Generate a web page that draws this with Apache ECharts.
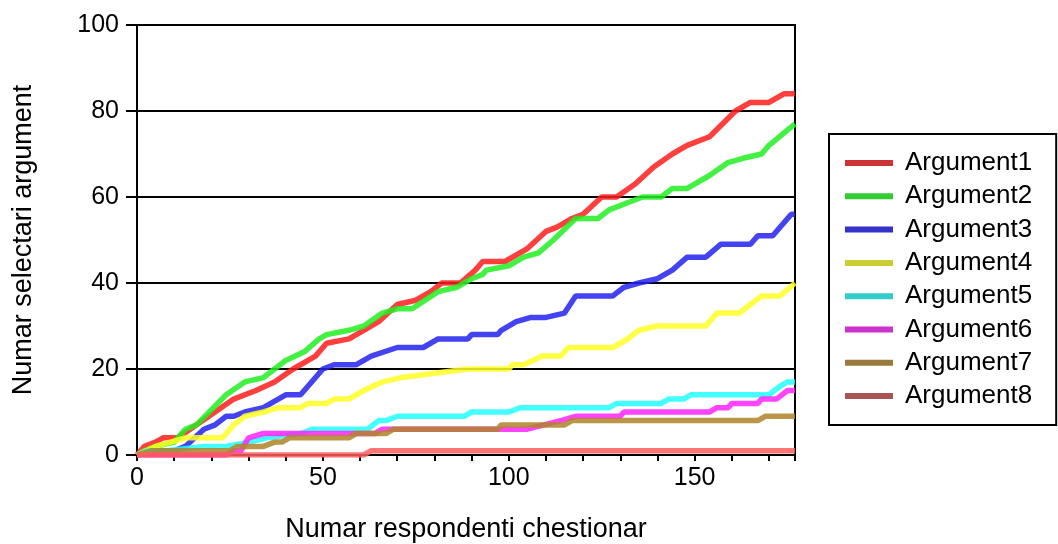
<!DOCTYPE html>
<html>
<head>
<meta charset="utf-8">
<script src="https://cdn.jsdelivr.net/npm/echarts@6/dist/echarts.min.js"></script>
<style>
html,body{margin:0;padding:0;background:#fff;}
#c{width:1058px;height:544px;}
</style>
</head>
<body>
<div id="c"></div>
<script>
const seriesNames = ['Argument1','Argument2','Argument3','Argument4','Argument5','Argument6','Argument7','Argument8'];
const xTickLabels = [0, 50, 100, 150];
const yTickLabels = [0, 20, 40, 60, 80, 100];

// [respondent index, cumulative count] vertices
const arg1 = [[0,0],[2,2],[5,3],[7,4],[11,4],[21,10],[26,13],[32,15],[37,17],[42,20],[48,23],[51,26],[57,27],[61,29],[65,31],[70,35],[75,36],[79,38],[82,40],[87,40],[91,43],[93,45],[99,45],[105,48],[110,52],[113,53],[117,55],[120,56],[125,60],[129,60],[134,63],[139,67],[144,70],[148,72],[154,74],[161,80],[165,82],[170,82],[174,84],[177,84]];
const arg2 = [[0,0],[2,1],[5,2],[10,3],[13,6],[16,7],[24,14],[29,17],[34,18],[37,20],[40,22],[45,24],[49,27],[51,28],[57,29],[61,30],[66,33],[70,34],[74,34],[81,38],[86,39],[90,41],[93,42],[94,43],[100,44],[104,46],[108,47],[112,50],[118,55],[124,55],[127,57],[133,59],[136,60],[141,60],[144,62],[148,62],[154,65],[159,68],[163,69],[168,70],[170,72],[177,77]];
const arg3 = [[0,0],[5,1],[10,1],[13,2],[18,6],[21,7],[24,9],[26,9],[29,10],[34,11],[40,14],[44,14],[50,20],[53,21],[59,21],[63,23],[70,25],[77,25],[81,27],[89,27],[90,28],[97,28],[98,29],[102,31],[106,32],[110,32],[115,33],[118,37],[128,37],[131,39],[135,40],[140,41],[144,43],[148,46],[153,46],[157,49],[165,49],[167,51],[171,51],[176,56],[177,56]];
const arg4 = [[0,0],[5,2],[13,4],[23,4],[26,7],[29,9],[34,10],[38,11],[44,11],[46,12],[51,12],[53,13],[57,13],[61,15],[66,17],[71,18],[80,19],[89,20],[100,20],[101,21],[104,21],[109,23],[114,23],[116,25],[128,25],[132,27],[135,29],[140,30],[153,30],[156,33],[162,33],[165,35],[168,37],[173,37],[177,40]];
const arg5 = [[0,0],[3,1],[8,1],[18,2],[24,2],[30,3],[35,4],[44,5],[47,6],[62,6],[65,8],[67,8],[70,9],[88,9],[90,10],[100,10],[103,11],[127,11],[129,12],[141,12],[143,13],[147,13],[149,14],[170,14],[173,16],[175,17],[177,17]];
const arg6 = [[0,0],[24,0],[26,1],[28,1],[30,4],[34,5],[64,5],[66,6],[105,6],[114,8],[118,9],[130,9],[131,10],[154,10],[156,11],[159,11],[160,12],[167,12],[168,13],[172,13],[175,15],[177,15]];
const arg7 = [[0,0],[4,1],[25,1],[27,2],[34,2],[37,3],[39,3],[41,4],[57,4],[59,5],[67,5],[69,6],[97,6],[98,7],[115,7],[117,8],[167,8],[169,9],[177,9]];
const arg8 = [[0,0],[61,0],[63,1],[177,1]];

const seriesData = [arg1, arg2, arg3, arg4, arg5, arg6, arg7, arg8];
const lineColors = ['#ff1c1c','#22ee22','#2222f0','#ffff22','#22ffff','#ff22ff','#b08428','#ff5c5c'];
const legendColors = ['#cc3333','#33cc33','#3333cc','#cccc33','#33cccc','#cc33cc','#997a3d','#aa5555'];

const chart = echarts.init(document.getElementById('c'));
const font = 'Liberation Sans, Arial, sans-serif';

chart.setOption({
  animation: false,
  backgroundColor: '#fff',
  grid: { left: 137, right: 263, top: 25, bottom: 89, show: true, borderColor: '#000', borderWidth: 2,
          backgroundColor: 'transparent', containLabel: false, outerBoundsMode: 'none' },
  legend: {
    orient: 'vertical',
    left: 829, top: 134,
    padding: [16, 24, 16, 16],
    borderColor: '#000', borderWidth: 2,
    itemWidth: 48, itemHeight: 6, itemGap: 7.3,
    icon: 'rect',
    selectedMode: false,
    textStyle: { fontFamily: font, fontSize: 26, color: '#000', padding: [0,0,0,7] },
    data: seriesNames.map((n, i) => ({ name: n, icon: 'rect', itemStyle: { color: legendColors[i], opacity: 1 } }))
  },
  xAxis: {
    type: 'value', min: 0, max: 177, interval: 10,
    name: 'Numar respondenti chestionar', nameLocation: 'middle', nameGap: 61,
    nameTextStyle: { fontFamily: font, fontSize: 27, color: '#000' },
    axisLine: { show: true, lineStyle: { color: '#000', width: 2 } },
    axisTick: { show: true, length: 6, lineStyle: { color: '#000', width: 2 } },
    axisLabel: { fontFamily: font, fontSize: 25, color: '#000', margin: 11,
      formatter: v => xTickLabels.indexOf(v) >= 0 ? String(v) : '' },
    splitLine: { show: false }
  },
  yAxis: {
    type: 'value', min: 0, max: 100, interval: 20,
    name: 'Numar selectari argument', nameLocation: 'middle', nameGap: 100, nameRotate: 90,
    nameTextStyle: { fontFamily: font, fontSize: 27, color: '#000' },
    axisLine: { show: true, lineStyle: { color: '#000', width: 2 } },
    axisTick: { show: true, length: 11, lineStyle: { color: '#000', width: 2 } },
    axisLabel: { fontFamily: font, fontSize: 25, color: '#000', margin: 18,
      formatter: v => yTickLabels.indexOf(v) >= 0 ? String(v) : '' },
    splitLine: { show: true, lineStyle: { color: '#000', width: 2 } }
  },
  series: seriesNames.map((n, i) => ({
    name: n, type: 'line', data: seriesData[i], showSymbol: false, symbol: 'none',
    color: lineColors[i],
    lineStyle: { color: lineColors[i], width: 5.5, opacity: 0.85 },
    itemStyle: { color: lineColors[i] },
    emphasis: { disabled: true }
  }))
});
</script>
</body>
</html>
